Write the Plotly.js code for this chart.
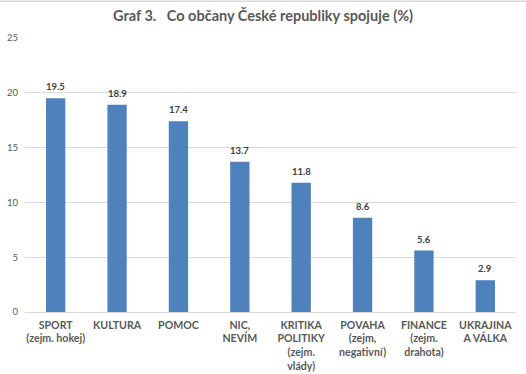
<!DOCTYPE html>
<html><head><meta charset="utf-8">
<script src="https://cdn.plot.ly/plotly-3.0.1.min.js"></script>
<style>html,body{margin:0;padding:0;background:#fff}#c{width:526px;height:374px}</style>
</head><body><div id="c"></div>
<script>
const categories = ["SPORT<br>(zejm. hokej)","KULTURA","POMOC","NIC,<br>NEVÍM","KRITIKA<br>POLITIKY<br>(zejm.<br>vlády)","POVAHA<br>(zejm,<br>negativní)","FINANCE<br>(zejm.<br>drahota)","UKRAJINA<br>A VÁLKA"];
const values = [19.5, 18.9, 17.4, 13.7, 11.8, 8.6, 5.6, 2.9];
const valueLabels = ["19.5","18.9","17.4","13.7","11.8","8.6","5.6","2.9"];
const yTicks = [0,5,10,15,20,25];

const trace = {
  type: 'bar', x: categories, y: values,
  marker: {color: '#4f81bd'},
  hoverinfo: 'none'
};
const annotations = categories.map((c, i) => ({
  x: c, y: values[i], xref: 'x', yref: 'y', text: valueLabels[i],
  showarrow: false, yanchor: 'bottom', yshift: 4,
  font: {family: 'Lato, sans-serif', size: 9.5, color: '#404040', weight: 'bold'}
}));
const layout = {
  width: 526, height: 374,
  margin: {l: 25, r: 10, t: 38, b: 62},
  paper_bgcolor: '#fff', plot_bgcolor: '#fff',
  bargap: 0.685,
  showlegend: false,
  annotations: annotations,
  title: {text: 'Graf 3.   Co občany České republiky spojuje (%)', x: 0.5, xanchor: 'center', y: 0.957, yanchor: 'middle',
    font: {family: 'Lato, sans-serif', size: 14.5, color: '#595959', weight: 'bold'}},
  xaxis: {showgrid: false, showline: false, zeroline: false, ticks: '',
    ticklabelstandoff: 5,
    tickfont: {family: 'Lato, sans-serif', size: 10.6, color: '#595959', weight: 'bold'}},
  yaxis: {range: [0, 25], tickvals: yTicks, ticktext: yTicks.map(String), showgrid: true, gridcolor: '#d9d9d9', gridwidth: 1,
    zeroline: true, zerolinecolor: '#d9d9d9', zerolinewidth: 1, showline: false, ticks: '',
    ticklabelstandoff: 6,
    tickfont: {family: 'Lato, sans-serif', size: 9.5, color: '#595959'}},
  shapes: [{type: 'line', xref: 'paper', yref: 'paper', x0: -0.06, x1: 1.03, y0: 1.134, y1: 1.134, line: {color: '#d9d9d9', width: 1.5}}]
};
Plotly.newPlot('c', [trace], layout, {staticPlot: true, displayModeBar: false});
</script></body></html>
